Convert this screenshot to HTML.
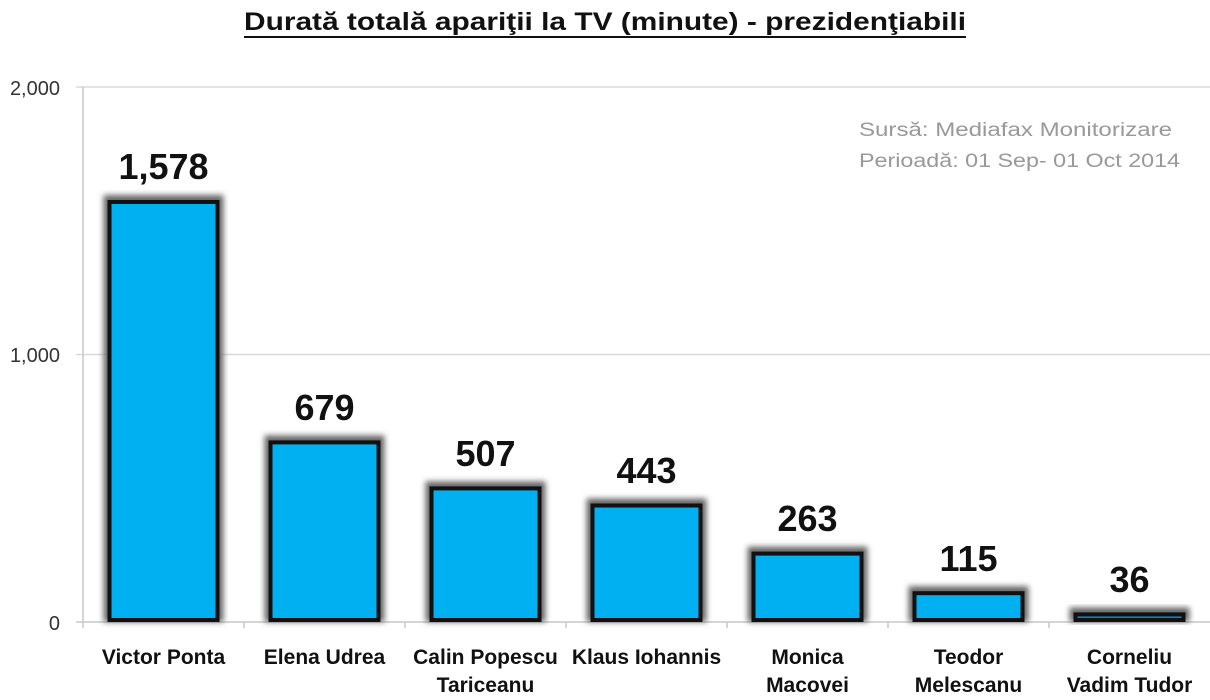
<!DOCTYPE html>
<html><head><meta charset="utf-8"><style>
html,body{margin:0;padding:0;background:#fff;}
svg{display:block;font-family:"Liberation Sans",sans-serif;}
</style></head><body>
<svg width="1210" height="700" viewBox="0 0 1210 700">
<defs><filter id="g" x="-20%" y="-20%" width="140%" height="140%"><feGaussianBlur stdDeviation="3"/></filter></defs>
<text x="244" y="30" font-size="25" font-weight="bold" fill="#111" textLength="722" lengthAdjust="spacingAndGlyphs">Durată totală apariţii la TV (minute) - prezidenţiabili</text>
<line x1="244" y1="37" x2="966" y2="37" stroke="#111" stroke-width="2"/>
<g stroke="#d9d9d9" stroke-width="1.5">
<line x1="76" y1="87" x2="1210" y2="87"/>
<line x1="76" y1="354.5" x2="1210" y2="354.5"/>
</g>
<line x1="83" y1="87" x2="83" y2="628" stroke="#c8c8c8" stroke-width="1.5"/>
<line x1="76" y1="622" x2="1210" y2="622" stroke="#c8c8c8" stroke-width="1.5"/>
<g stroke="#c8c8c8" stroke-width="1.5">
<line x1="244" y1="622" x2="244" y2="628"/><line x1="405" y1="622" x2="405" y2="628"/><line x1="566" y1="622" x2="566" y2="628"/><line x1="727" y1="622" x2="727" y2="628"/><line x1="888" y1="622" x2="888" y2="628"/><line x1="1049" y1="622" x2="1049" y2="628"/>
</g>
<g font-size="20" fill="#333" text-anchor="end">
<text x="60" y="95">2,000</text><text x="60" y="362">1,000</text><text x="60" y="630">0</text>
</g>
<g font-size="19" fill="#999">
<text x="859" y="136" textLength="313" lengthAdjust="spacingAndGlyphs">Sursă: Mediafax Monitorizare</text>
<text x="859" y="167" textLength="321" lengthAdjust="spacingAndGlyphs">Perioadă: 01 Sep- 01 Oct 2014</text>
</g>
<g>
<rect x="103.5" y="195" width="120" height="427" fill="#666" filter="url(#g)"/>
<rect x="109.5" y="202" width="108" height="418" fill="#00b0f0" stroke="#111" stroke-width="4"/>
<rect x="264.5" y="435.4" width="120" height="186.6" fill="#666" filter="url(#g)"/>
<rect x="270.5" y="442.4" width="108" height="177.6" fill="#00b0f0" stroke="#111" stroke-width="4"/>
<rect x="425.5" y="481.4" width="120" height="140.6" fill="#666" filter="url(#g)"/>
<rect x="431.5" y="488.4" width="108" height="131.6" fill="#00b0f0" stroke="#111" stroke-width="4"/>
<rect x="586.5" y="498.5" width="120" height="123.5" fill="#666" filter="url(#g)"/>
<rect x="592.5" y="505.5" width="108" height="114.5" fill="#00b0f0" stroke="#111" stroke-width="4"/>
<rect x="747.5" y="546.6" width="120" height="75.4" fill="#666" filter="url(#g)"/>
<rect x="753.5" y="553.6" width="108" height="66.4" fill="#00b0f0" stroke="#111" stroke-width="4"/>
<rect x="908.5" y="586.2" width="120" height="35.8" fill="#666" filter="url(#g)"/>
<rect x="914.5" y="593.2" width="108" height="26.8" fill="#00b0f0" stroke="#111" stroke-width="4"/>
<rect x="1069.5" y="607.4" width="120" height="14.6" fill="#666" filter="url(#g)"/>
<rect x="1075.5" y="614.4" width="108" height="5.6" fill="#1a7fb0" stroke="#111" stroke-width="4"/>
</g>
<g font-size="36" font-weight="bold" fill="#111" text-anchor="middle">
<text x="163.5" y="179">1,578</text>
<text x="324.5" y="420">679</text>
<text x="485.5" y="466">507</text>
<text x="646.5" y="483">443</text>
<text x="807.5" y="531">263</text>
<text x="968.5" y="571">115</text>
<text x="1129.5" y="592">36</text>
</g>
<g font-size="21" font-weight="bold" fill="#111" text-anchor="middle">
<text x="163.5" y="664">Victor Ponta</text>
<text x="324.5" y="664">Elena Udrea</text>
<text x="485.5" y="664">Calin Popescu</text><text x="485.5" y="692">Tariceanu</text>
<text x="646.5" y="664">Klaus Iohannis</text>
<text x="807.5" y="664">Monica</text><text x="807.5" y="692">Macovei</text>
<text x="968.5" y="664">Teodor</text><text x="968.5" y="692">Melescanu</text>
<text x="1129.5" y="664">Corneliu</text><text x="1129.5" y="692">Vadim Tudor</text>
</g>
</svg>
</body></html>
